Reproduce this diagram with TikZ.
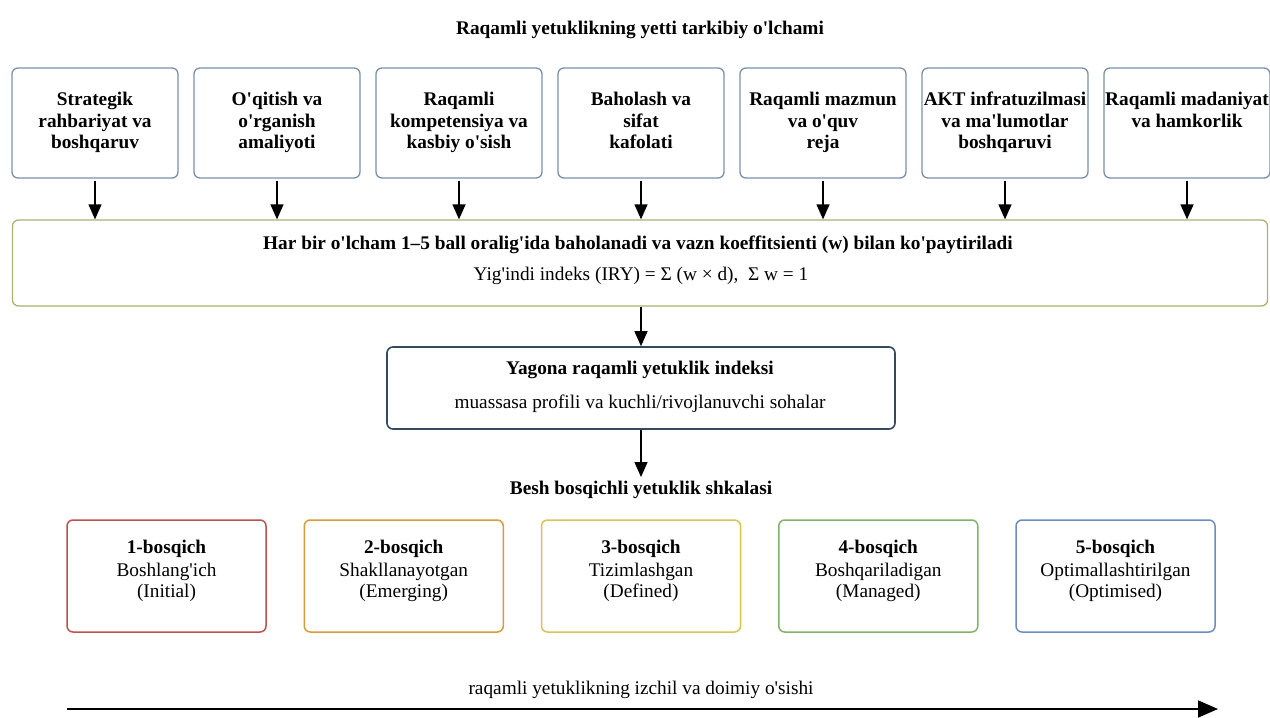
\documentclass[tikz,border=0pt]{standalone}
\usepackage{fontspec}
\newfontfamily\mainserif{Liberation Serif}
\usetikzlibrary{arrows.meta}
\definecolor{dimblue}{HTML}{7A8FA8}
\definecolor{myolive}{HTML}{AEB26C}
\definecolor{darkslate}{HTML}{34495E}
\definecolor{sred}{HTML}{B85450}
\definecolor{sorange}{HTML}{D79B3A}
\definecolor{syellow}{HTML}{D6C650}
\definecolor{sgreen}{HTML}{82B366}
\definecolor{sblue}{HTML}{6C8EBF}
\tikzset{
  txt/.style={font=\mainserif\fontsize{19.3}{21.5}\selectfont, align=center, inner sep=0pt},
  btxt/.style={font=\mainserif\fontsize{19.3}{21.5}\selectfont\bfseries, align=center, inner sep=0pt},
  dimbox/.style={draw=dimblue, line width=1.3pt, rounded corners=6pt, fill=white,
    minimum width=166pt, minimum height=110pt, inner sep=0pt},
  stagebox/.style={line width=1.5pt, rounded corners=6pt, fill=white,
    minimum width=199pt, minimum height=112pt, inner sep=0pt},
  arr/.style={-{Triangle[width=13pt,length=15pt]}, line width=1.3pt},
  bigarr/.style={-{Triangle[width=17pt,length=20pt]}, line width=1.8pt}
}
\begin{document}
\begin{tikzpicture}[x=1pt,y=-1pt]
\useasboundingbox[fill=white] (0,0) rectangle (1270,718);

\node[btxt] (title) at (640,30) {Raqamli yetuklikning yetti tarkibiy o'lchami};

% seven dimension boxes
\foreach \i/\t in {1/{Strategik\\rahbariyat va\\boshqaruv},
                   2/{O'qitish va\\o'rganish\\amaliyoti},
                   3/{Raqamli\\kompetensiya va\\kasbiy o'sish},
                   4/{Baholash va\\sifat\\kafolati},
                   5/{Raqamli mazmun\\va o'quv\\reja},
                   6/{AKT infratuzilmasi\\va ma'lumotlar\\boshqaruvi},
                   7/{Raqamli madaniyat\\va hamkorlik}} {
  \node[dimbox] (d\i) at ({95+182*(\i-1)},123) {};
  \node[btxt, anchor=north] (t\i) at ({95+182*(\i-1)},92) {\t};
}

% aggregation box
\node[draw=myolive, line width=1.3pt, rounded corners=6pt, fill=white,
      minimum width=1255pt, minimum height=86pt, inner sep=0pt] (big) at (640,263) {};
\node[btxt] (bigt1) at (638,245) {Har bir o'lcham 1–5 ball oralig'ida baholanadi va vazn koeffitsienti (w) bilan ko'paytiriladi};
\node[txt] (bigt2) at (641,276) {Yig'indi indeks (IRY) = Σ (w × d),\enspace Σ w = 1};

\foreach \i in {1,...,7} {
  \draw[arr] ([yshift=-2pt]d\i.south) -- (d\i.south |- big.north);
}

% index box
\node[draw=darkslate, line width=1.6pt, rounded corners=6pt, fill=white,
      minimum width=508pt, minimum height=82pt, inner sep=0pt] (idx) at (641,388) {};
\node[btxt] (idxt1) at (640,370) {Yagona raqamli yetuklik indeksi};
\node[txt] (idxt2) at (640,404) {muassasa profili va kuchli/rivojlanuvchi sohalar};

\draw[arr] (idx.north |- big.south) -- (idx.north);

\node[btxt] (scale) at (641,490) {Besh bosqichli yetuklik shkalasi};
\coordinate (scaletop) at ([yshift=4pt]scale.north);
\draw[arr] (idx.south) -- (idx.south |- scaletop);

% stage boxes
\foreach \i/\c/\h/\a/\b in {1/sred/1-bosqich/Boshlang'ich/(Initial),
                   2/sorange/2-bosqich/Shakllanayotgan/(Emerging),
                   3/syellow/3-bosqich/Tizimlashgan/(Defined),
                   4/sgreen/4-bosqich/Boshqariladigan/(Managed),
                   5/sblue/5-bosqich/Optimallashtirilgan/(Optimised)} {
  \node[stagebox, draw=\c] (s\i) at ({166.5+237.25*(\i-1)},576) {};
  \node[btxt] (sh\i) at ({166.5+237.25*(\i-1)},549) {\h};
  \node[txt] (sa\i) at ({166.5+237.25*(\i-1)},572) {\a};
  \node[txt] (sb\i) at ({166.5+237.25*(\i-1)},593) {\b};
}

% progression arrow
\node[txt] (prog) at (641,690) {raqamli yetuklikning izchil va doimiy o'sishi};
\coordinate (pl) at (67,709);
\coordinate (pr) at (1218,709);
\draw[bigarr] (pl) -- (pr);
\end{tikzpicture}
\end{document}
